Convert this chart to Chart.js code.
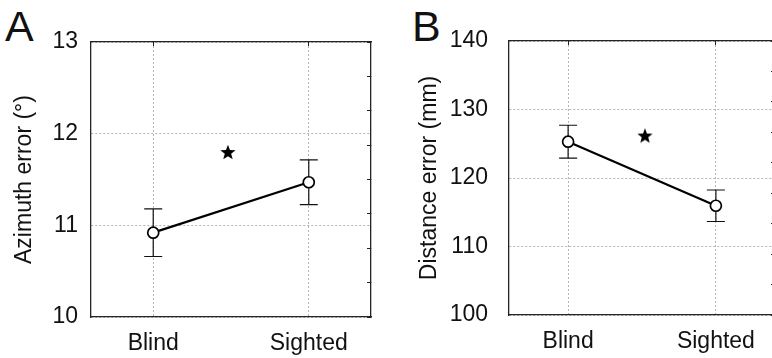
<!DOCTYPE html>
<html lang="en">
<head>
<meta charset="UTF-8">
<title>Blind vs Sighted error</title>
<script src="https://cdn.jsdelivr.net/npm/chart.js"></script>
<style>
  body { margin: 0; width: 772px; height: 358px; overflow: hidden; background: #fff; position: relative;
         font-family: "Liberation Sans", Arial, sans-serif; }
  .panel { position: absolute; top: 0; height: 358px; }
  #boxA { left: 0; width: 390px; }
  #boxB { left: 390px; width: 395px; }
  .letter { position: absolute; top: 5px; font-size: 43px; line-height: 1; color: #111; }
</style>
</head>
<body>
<div class="letter" style="left:5px">A</div>
<div class="letter" style="left:412px">B</div>
<div class="panel" id="boxA"><canvas id="chartA" width="390" height="358"></canvas></div>
<div class="panel" id="boxB"><canvas id="chartB" width="395" height="358"></canvas></div>

<script>
// data
const categories = ['Blind', 'Sighted'];
const azimuthMean = [10.92, 11.47];
const azimuthErr = [0.26, 0.245];
const azimuthTicks = [10, 11, 12, 13];
const azimuthStar = [1.48, 11.8];

const distanceMean = [125.3, 115.95];
const distanceErr = [2.4, 2.3];
const distanceTicks = [100, 110, 120, 130, 140];
const distanceStar = [1.52, 126.2];

const FONT = '"Liberation Sans", Arial, sans-serif';
const INK = '#111';

// filled five point star used as point style
function makeStar(size) {
  const c = document.createElement('canvas');
  c.width = c.height = size;
  const g = c.getContext('2d');
  g.fillStyle = '#000';
  g.beginPath();
  for (let i = 0; i < 10; i++) {
    const r = i % 2 ? size * 0.21 : size * 0.5;
    const a = -Math.PI / 2 + i * Math.PI / 5;
    g.lineTo(size / 2 + r * Math.cos(a), size * 0.55 + r * Math.sin(a));
  }
  g.closePath();
  g.fill();
  return c;
}
const star = makeStar(16);

// vertical error bars with caps, drawn under the markers
const errorBars = {
  id: 'errorBars',
  beforeDatasetsDraw(chart) {
    const ds = chart.data.datasets[0];
    const xs = chart.scales.x, ys = chart.scales.y;
    const ctx = chart.ctx;
    ctx.save();
    ctx.strokeStyle = INK;
    ctx.lineWidth = 1.2;
    ds.data.forEach((p, i) => {
      const px = xs.getPixelForValue(p.x);
      const top = ys.getPixelForValue(p.y + ds.errors[i]);
      const bot = ys.getPixelForValue(p.y - ds.errors[i]);
      ctx.beginPath();
      ctx.moveTo(px, top); ctx.lineTo(px, bot);
      ctx.moveTo(px - 9, top); ctx.lineTo(px + 9, top);
      ctx.moveTo(px - 9, bot); ctx.lineTo(px + 9, bot);
      ctx.stroke();
    });
    ctx.restore();
  }
};

function makePanel(id, p) {
  const catTicks = s => { s.ticks = categories.map((c, i) => ({ value: i + 1 })); };
  const dotted = { color: '#b4b4b4', lineWidth: 1, drawTicks: false };
  const border = { color: '#222', width: 1.3, dash: [2, 2] };

  return new Chart(document.getElementById(id), {
    type: 'line',
    data: {
      datasets: [{
        data: p.mean.map((v, i) => ({ x: i + 1, y: v })),
        errors: p.err,
        borderColor: '#000',
        borderWidth: 2.2,
        pointRadius: 5.5,
        pointBackgroundColor: '#fff',
        pointBorderColor: '#000',
        pointBorderWidth: 1.7
      }, {
        type: 'scatter',
        data: [{ x: p.star[0], y: p.star[1] }],
        pointStyle: star,
        pointRadius: 8
      }]
    },
    options: {
      responsive: false,
      animation: false,
      layout: { padding: { left: 0, right: p.padRight, top: p.top, bottom: 0 } },
      plugins: { legend: { display: false }, tooltip: { enabled: false } },
      scales: {
        x: {
          type: 'linear', position: 'bottom', min: 0.6, max: 2.4,
          afterBuildTicks: catTicks,
          afterFit: s => { s.height = 358 - p.bottom; },
          ticks: { callback: v => categories[v - 1], font: { family: FONT, size: 23 }, color: INK, padding: 13 },
          grid: dotted, border: border
        },
        y: {
          min: p.ticks[0], max: p.ticks[p.ticks.length - 1],
          afterBuildTicks: s => { s.ticks = p.ticks.map(v => ({ value: v })); },
          afterFit: s => { s.width = p.left; },
          ticks: { font: { family: FONT, size: 23 }, color: INK, padding: p.tickPad },
          grid: dotted, border: border,
          title: { display: true, text: p.title, font: { family: FONT, size: 23 }, color: INK,
                   padding: { top: p.titlePad, bottom: 0 } }
        },
        // top and right frame with small inward ticks
        x2: {
          type: 'linear', position: 'top', min: 0.6, max: 2.4,
          afterBuildTicks: catTicks,
          afterFit: s => { s.height = 0; },
          ticks: { display: false },
          grid: { drawOnChartArea: false, tickLength: -4, color: '#222', lineWidth: 1 },
          border: { color: '#222', width: 1.3 }
        },
        y2: {
          position: 'right', min: 0, max: p.rightSteps,
          ticks: { display: false, stepSize: 1 },
          afterFit: s => { s.width = 0; },
          grid: { drawOnChartArea: false, tickLength: -4, color: '#222', lineWidth: 1 },
          border: { color: '#222', width: 1.3 }
        }
      }
    },
    plugins: [errorBars]
  });
}

makePanel('chartA', {
  mean: azimuthMean, err: azimuthErr, star: azimuthStar, ticks: azimuthTicks,
  title: 'Azimuth error (°)', left: 91, padRight: 19, top: 42, bottom: 317,
  tickPad: 13, titlePad: 11, rightSteps: 8
});

makePanel('chartB', {
  mean: distanceMean, err: distanceErr, star: distanceStar, ticks: distanceTicks,
  title: 'Distance error (mm)', left: 119, padRight: 10, top: 41, bottom: 315,
  tickPad: 21, titlePad: 26, rightSteps: 9
});
</script>
</body>
</html>
